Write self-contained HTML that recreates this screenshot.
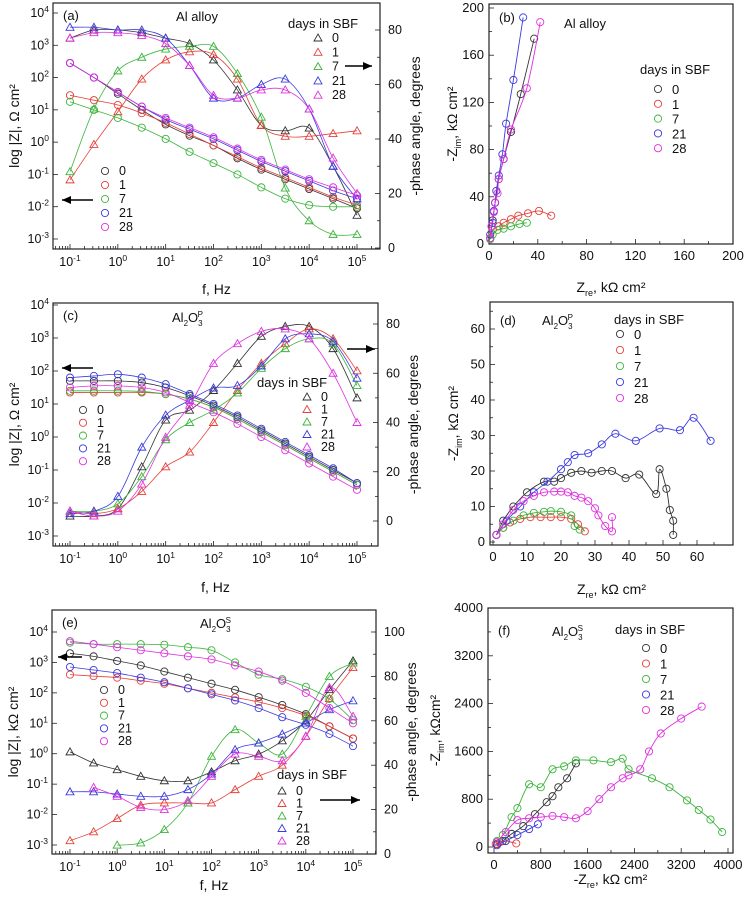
<!DOCTYPE html>
<html><head><meta charset="utf-8"><style>
html,body{margin:0;padding:0;background:#fff}
svg{display:block;font-family:"Liberation Sans",sans-serif}
</style></head><body>
<svg id="fig" width="750" height="899" viewBox="0 0 750 899" xmlns="http://www.w3.org/2000/svg"></svg>
<script>
// ---------- DATA ----------
const days = ["0","1","7","21","28"];
const colors = ["#333333","#e5403a","#3cb43c","#3a3ae0","#e030e0"];
const logFreq = [-1,-0.5,0,0.5,1,1.5,2,2.5,3,3.5,4,4.5,5];
// panel (a) Al alloy
const aLogZ0 = [2.45,2.0,1.5,1.0,0.55,0.2,-0.1,-0.5,-0.85,-1.15,-1.45,-1.75,-2.05];
const aLogZ1 = [1.45,1.3,1.15,0.9,0.6,0.25,-0.1,-0.45,-0.8,-1.1,-1.4,-1.7,-1.95];
const aLogZ7 = [1.25,1.0,0.75,0.45,0.1,-0.3,-0.65,-1.0,-1.4,-1.75,-1.95,-2.0,-2.0];
const aLogZ21 = [2.45,2.0,1.55,1.1,0.7,0.4,0.1,-0.25,-0.6,-0.9,-1.2,-1.5,-1.75];
const aLogZ28 = [2.45,2.0,1.55,1.1,0.75,0.45,0.15,-0.2,-0.55,-0.85,-1.15,-1.4,-1.65];
const aPh0 = [77,80,80,79,77,75,69,58,45,43,44,30,12];
const aPh1 = [25,38,50,62,69,72,71,62,45,41,41,42,43];
const aPh7 = [28,51,65,70,73,74,74,64,48,22,10,5,5];
const aPh21 = [81,81,80,80,77,67,55,55,60,62,51,30,18];
const aPh28 = [77,79,79,78,75,67,56,55,58,58,51,33,20];
// panel (c) Al2O3 P
const cLogZ0 = [1.7,1.7,1.7,1.65,1.5,1.25,0.95,0.6,0.2,-0.2,-0.6,-1.0,-1.4];
const cLogZ1 = [1.35,1.35,1.35,1.35,1.3,1.15,0.9,0.55,0.15,-0.25,-0.65,-1.05,-1.45];
const cLogZ7 = [1.4,1.4,1.4,1.38,1.3,1.15,0.9,0.55,0.15,-0.25,-0.65,-1.05,-1.45];
const cLogZ21 = [1.8,1.85,1.9,1.8,1.6,1.3,1.0,0.65,0.25,-0.15,-0.55,-0.95,-1.4];
const cLogZ28 = [1.5,1.55,1.55,1.5,1.35,1.05,0.75,0.4,0.0,-0.4,-0.8,-1.2,-1.6];
const cPh0 = [2,2,5,22,41,45,53,64,75,79,79,70,50];
const cPh1 = [4,3,5,12,22,28,40,53,64,72,78,74,61];
const cPh7 = [4,4,7,18,33,40,45,52,62,70,74,72,55];
const cPh21 = [3,4,10,30,43,49,54,55,63,74,76,73,58];
const cPh28 = [4,2,4,15,34,47,64,72,77,78,74,60,40];
// panel (e) Al2O3 S
const eLogZ0 = [3.3,3.2,3.05,2.9,2.7,2.5,2.3,2.1,1.86,1.6,1.3,0.9,0.5];
const eLogZ1 = [2.6,2.55,2.5,2.4,2.3,2.15,2.0,1.85,1.7,1.5,1.25,0.9,0.5];
const eLogZ7 = [3.65,3.6,3.6,3.6,3.58,3.5,3.4,3.0,2.6,2.45,2.2,1.8,1.1];
const eLogZ21 = [2.85,2.75,2.65,2.5,2.35,2.15,1.95,1.75,1.5,1.2,0.95,0.65,0.25];
const eLogZ28 = [3.7,3.6,3.5,3.4,3.3,3.2,3.1,2.9,2.7,2.4,2.0,1.5,1.0];
const ePh0 = [46,41,38,35,33,33,37,42,45,51,60,74,87];
const ePh1 = [6,10,16,22,23,23,23,29,35,40,53,70,84];
const ePh7 = [null,null,4,5,11,23,44,56,50,45,62,80,86];
const ePh21 = [28,28,27,26,26,29,36,47,50,54,59,65,69];
const ePh28 = [null,30,26,21,20,24,35,45,44,42,53,75,62];
// panel (b) Nyquist Al alloy (Zre, Zim)
const bRe0 = [1,3,5,8,12,18,26,37];   const bIm0 = [5,20,35,55,72,95,127,174];
const bRe1 = [1,3,8,12,18,24,32,41,51]; const bIm1 = [5,12,15,18,21,24,26,28,24];
const bRe7 = [1,3,7,12,18,25,31];     const bIm7 = [4,8,12,13,15,17,18];
const bRe21 = [1,3,4,5,6,8,11,14,20,28]; const bIm21 = [8,18,28,35,45,58,76,102,139,192];
const bRe28 = [1,2,4,5,7,8,12,18,31,42]; const bIm28 = [5,15,27,35,43,55,72,97,132,188];
// panel (d)
const dRe0 = [1,3,6,10,15,18,20,23,26,29,32,35,39,43,48,49,51,52,53,53];
const dIm0 = [2,6,10,14,17,17,18,19.5,20,19.5,20,20,18,19,13.5,20.5,15,9,6,2];
const dRe1 = [1,3,5,8,11,14,17,20,23,25,27]; const dIm1 = [2,4,5.5,6.5,7,7,7,7,6.5,5,3];
const dRe7 = [1,3,6,9,12,15,17,20,23,24,25.5]; const dIm7 = [2,4,6,7.5,8.2,8.5,8.7,8.5,7.5,4.5,3.5];
const dRe21 = [1,4,8,12,16,20,22,24,28,32,36,42,49,55,59,64];
const dIm21 = [2,6,10,14,17,20.5,22.5,24.5,25,27.5,30.5,28.5,32,31.5,35,28.5];
const dRe28 = [1,3,6,9,12,15,18,20,22,24,26,28,30,31,33,35,35];
const dIm28 = [2,5,9,11.5,13,14,14.2,14.2,14,13,12.5,11.5,9.5,7.5,4.5,3,7];
// panel (f)
const fRe0 = [50,150,300,500,700,900,1000,1100,1250,1400]; const fIm0 = [50,100,220,350,550,750,850,1000,1150,1400];
const fRe1 = [30,100,200,380]; const fIm1 = [50,80,100,60];
const fRe7 = [50,150,300,400,600,800,1000,1200,1400,1700,2000,2200,2300,2700,3000,3300,3500,3700,3900];
const fIm7 = [100,200,500,650,1050,1000,1300,1350,1450,1450,1420,1480,1300,1150,1000,780,620,460,250];
const fRe21 = [50,200,400,600,750]; const fIm21 = [30,100,200,300,380];
const fRe28 = [50,200,400,600,800,1000,1200,1400,1600,1800,2000,2200,2300,2500,2650,2850,3200,3550];
const fIm28 = [80,250,450,480,500,520,500,480,600,800,1000,1150,1200,1300,1600,1900,2150,2350];

// ---------- DRAWING ----------
const NS="http://www.w3.org/2000/svg";
const svg=document.getElementById('fig');
function mk(tag,attrs,parent){const e=document.createElementNS(NS,tag);for(const k in attrs)e.setAttribute(k,attrs[k]);(parent||svg).appendChild(e);return e;}
function lin(d0,d1,r0,r1){return v=>r0+(v-d0)*(r1-r0)/(d1-d0);}
function txt(x,y,s,opt,parent){const t=mk('text',Object.assign({x:x,y:y,'font-size':12,fill:'#111'},opt||{}),parent);t.textContent=s;return t;}
function pow10(x,y,n,parent,anchor){const t=mk('text',{x:x,y:y,'font-size':12.5,fill:'#111','text-anchor':anchor||'middle'},parent);
  t.appendChild(document.createTextNode('10'));const s=document.createElementNS(NS,'tspan');s.setAttribute('dy','-5');s.setAttribute('font-size','8.5');s.textContent=n;t.appendChild(s);return t;}
function circ(g,x,y){return mk('circle',{cx:x,cy:y,r:3.6,fill:'none','stroke-width':0.9},g);}
function tri(g,x,y){return mk('path',{d:`M${x},${y-4}L${x+4},${y+3}L${x-4},${y+3}Z`,fill:'none','stroke-width':0.9},g);}
function frame(x0,y0,x1,y1,parent){mk('rect',{x:x0,y:y0,width:x1-x0,height:y1-y0,fill:'none',stroke:'#222','stroke-width':1.2},parent);}
function smooth(p){
  if(p.length<2)return '';let d=`M${p[0][0]},${p[0][1]}`;
  for(let i=0;i<p.length-1;i++){const p0=p[Math.max(0,i-1)],p1=p[i],p2=p[i+1],p3=p[Math.min(p.length-1,i+2)];
    const c1x=p1[0]+(p2[0]-p0[0])/6,c1y=p1[1]+(p2[1]-p0[1])/6,c2x=p2[0]-(p3[0]-p1[0])/6,c2y=p2[1]-(p3[1]-p1[1])/6;
    d+=`C${c1x},${c1y} ${c2x},${c2y} ${p2[0]},${p2[1]}`;}
  return d;}

function bodePanel(cfg){
  const g=mk('g',{});
  
  
  const X=lin(-1,5,cfg.x0,cfg.x5), YZ=lin(4,-3,cfg.yz4,cfg.yzm3), YP=lin(0,cfg.phMax,cfg.yp0,cfg.ypMax);
  frame(cfg.L,cfg.T,cfg.R,cfg.B,g);
  for(let d=-2;d<=5;d++){for(let m=1;m<10;m++){const lv=d+Math.log10(m);const x=X(lv);if(x<cfg.L||x>cfg.R)continue;
    mk('line',{x1:x,y1:cfg.B,x2:x,y2:cfg.B-(m==1?5:3),stroke:'#222','stroke-width':0.8},g);}
    if(d>=-1){pow10(X(d),cfg.B+17,String(d),g);}}
  for(let d=-3;d<=4;d++){const y=YZ(d);mk('line',{x1:cfg.L,y1:y,x2:cfg.L+5,y2:y,stroke:'#222','stroke-width':0.8},g);pow10(cfg.L-4,y+4,String(d),g,'end');}
  for(let p=0;p<=cfg.phMax;p+=cfg.phStep){const y=YP(p);mk('line',{x1:cfg.R,y1:y,x2:cfg.R-5,y2:y,stroke:'#222','stroke-width':0.8},g);txt(cfg.R+8,y+4,String(p),{'font-size':12.5},g);
    if(p+cfg.phStep/2<=cfg.phMax+1){const y2=YP(p+cfg.phStep/2);if(y2>cfg.T)mk('line',{x1:cfg.R,y1:y2,x2:cfg.R-3,y2:y2,stroke:'#222','stroke-width':0.8},g);}}
  for(let s=0;s<5;s++){
    const zs=cfg.z[s], ps=cfg.p[s];
    const gz=mk('g',{stroke:colors[s]},g);
    
    
    let pts=[];
    logFreq.forEach((lf,i)=>{if(zs[i]==null)return;const x=X(lf),y=YZ(zs[i]);pts.push([x,y]);circ(gz,x,y);});
    mk('path',{d:smooth(pts),fill:'none','stroke-width':0.8},gz);
    const gp=mk('g',{stroke:colors[s]},g);
    
    
    pts=[];
    logFreq.forEach((lf,i)=>{if(ps[i]==null)return;const x=X(lf),y=YP(ps[i]);pts.push([x,y]);tri(gp,x,y);});
    mk('path',{d:smooth(pts),fill:'none','stroke-width':0.8},gp);
  }
  const yt=txt(0,0,'',{'font-size':14,'text-anchor':'middle',transform:`translate(${cfg.L-34},${(cfg.T+cfg.B)/2}) rotate(-90)`},g);
  yt.textContent=cfg.ylabel;
  
  
  const rt=txt(0,0,'-phase angle, degrees',{'font-size':14,'text-anchor':'middle',transform:`translate(${cfg.R+40},${(cfg.T+cfg.B)/2}) rotate(-90)`},g);
  
  
  const xt=txt((cfg.L+cfg.R)/2,cfg.xtY,'f, Hz',{'font-size':14,'text-anchor':'middle'},g);
  
  
  txt(cfg.L+10,cfg.T+17,cfg.tag,{'font-size':13},g);
  cfg.title(g);
  const lc=mk('g',{},g);
  
  
  for(let s=0;s<5;s++){const y=cfg.lc.y0+s*cfg.lc.dy;const c=circ(lc,cfg.lc.x,y);c.setAttribute('stroke',colors[s]);txt(cfg.lc.x+14,y+4,days[s],{'font-size':12.5},lc);}
  const lt=mk('g',{},g);
  
  
  txt(cfg.lt.hx,cfg.lt.hy,'days in SBF',{'font-size':13},lt);
  for(let s=0;s<5;s++){const y=cfg.lt.y0+s*cfg.lt.dy;const c=tri(lt,cfg.lt.x,y);c.setAttribute('stroke',colors[s]);txt(cfg.lt.x+14,y+4,days[s],{'font-size':12.5},lt);}
  cfg.arrows.forEach(a=>{const ar=mk('g',{},g);
    
    
    mk('line',{x1:a.x1,y1:a.y,x2:a.x2,y2:a.y,stroke:'#000','stroke-width':1.5},ar);
    const dir=a.x2>a.x1?1:-1;mk('path',{d:`M${a.x2},${a.y}L${a.x2-dir*9},${a.y-4}L${a.x2-dir*9},${a.y+4}Z`,fill:'#000'},ar);});
}
function al2o3(g,x,y,sup){const t=mk('text',{x:x,y:y,'font-size':13,fill:'#111'},g);
  t.appendChild(document.createTextNode('Al'));
  let s=document.createElementNS(NS,'tspan');s.setAttribute('dy','4');s.setAttribute('font-size','8');s.textContent='2';t.appendChild(s);
  s=document.createElementNS(NS,'tspan');s.setAttribute('dy','-4');s.textContent='O';t.appendChild(s);
  s=document.createElementNS(NS,'tspan');s.setAttribute('dy','4');s.setAttribute('font-size','8');s.textContent='3';t.appendChild(s);
  s=document.createElementNS(NS,'tspan');s.setAttribute('dx','-5');s.setAttribute('dy','-9');s.setAttribute('font-size','8');s.textContent=sup;t.appendChild(s);
  
  }

bodePanel({name:'panel-a-bode-al-alloy',L:53,T:3,R:380,B:249,x0:70,x5:357,yz4:13,yzm3:239,yp0:248,ypMax:30,phMax:80,phStep:20,
  z:[aLogZ0,aLogZ1,aLogZ7,aLogZ21,aLogZ28],p:[aPh0,aPh1,aPh7,aPh21,aPh28],ylabel:'log |Z|, Ω cm²',xtY:294,tag:'(a)',
  title:g=>{const t=txt(197,21,'Al alloy',{'font-size':13,'text-anchor':'middle'},g);},
  lc:{x:105,y0:171,dy:14},lt:{hx:288,hy:28,x:318,y0:38,dy:14.3},
  arrows:[{name:'left-axis-arrow',x1:93,x2:62,y:200},{name:'right-axis-arrow',x1:345,x2:372,y:66}]});
bodePanel({name:'panel-c-bode-al2o3-p',L:53,T:303,R:378,B:546,x0:70,x5:357,yz4:305,yzm3:536,yp0:521,ypMax:324,phMax:80,phStep:20,
  z:[cLogZ0,cLogZ1,cLogZ7,cLogZ21,cLogZ28],p:[cPh0,cPh1,cPh7,cPh21,cPh28],ylabel:'log |Z|, Ω cm²',xtY:592,tag:'(c)',
  title:g=>al2o3(g,172,322,'P'),
  lc:{x:83,y0:410,dy:12.8},lt:{hx:257,hy:387,x:307,y0:397,dy:12.5},
  arrows:[{name:'left-axis-arrow',x1:93,x2:62,y:368},{name:'right-axis-arrow',x1:347,x2:375,y:349}]});
bodePanel({name:'panel-e-bode-al2o3-s',L:52,T:610,R:376,B:854,x0:70,x5:353,yz4:632,yzm3:845,yp0:854,ypMax:632,phMax:100,phStep:20,
  z:[eLogZ0,eLogZ1,eLogZ7,eLogZ21,eLogZ28],p:[ePh0,ePh1,ePh7,ePh21,ePh28],ylabel:'log |Z|, kΩ cm²',xtY:890,tag:'(e)',
  title:g=>al2o3(g,200,628,'S'),
  lc:{x:104,y0:690,dy:12.8},lt:{hx:277,hy:779,x:282,y0:791,dy:12.5},
  arrows:[{name:'left-axis-arrow',x1:82,x2:58,y:657},{name:'right-axis-arrow',x1:320,x2:360,y:800}]});

function nyqPanel(cfg){
  const g=mk('g',{});
  
  
  const X=lin(0,cfg.xMax,cfg.x0,cfg.x1), Y=lin(0,cfg.yMax,cfg.y0,cfg.y1);
  frame(cfg.L,cfg.T,cfg.R,cfg.B,g);
  for(let v=0;v<=cfg.xMax+1e-9;v+=cfg.xStep){const x=X(v);mk('line',{x1:x,y1:cfg.B,x2:x,y2:cfg.B-5,stroke:'#222','stroke-width':0.8},g);
    const m=X(v+cfg.xStep/2);if(m<cfg.R)mk('line',{x1:m,y1:cfg.B,x2:m,y2:cfg.B-3,stroke:'#222','stroke-width':0.8},g);
    txt(x,cfg.B+16,String(v),{'text-anchor':'middle','font-size':13},g);}
  for(let v=0;v<=cfg.yMax+1e-9;v+=cfg.yStep){const y=Y(v);mk('line',{x1:cfg.L,y1:y,x2:cfg.L+5,y2:y,stroke:'#222','stroke-width':0.8},g);
    const m=Y(v+cfg.yStep/2);if(m>cfg.T)mk('line',{x1:cfg.L,y1:m,x2:cfg.L+3,y2:m,stroke:'#222','stroke-width':0.8},g);
    txt(cfg.L-5,y+4,String(v),{'text-anchor':'end','font-size':13},g);}
  for(let s=0;s<5;s++){const gs=mk('g',{stroke:colors[s]},g);
    
    
    const re=cfg.re[s],im=cfg.im[s];let pts=[];
    re.forEach((r,i)=>{const x=X(r),y=Y(im[i]);pts.push([x,y]);circ(gs,x,y);});
    mk('path',{d:smooth(pts),fill:'none','stroke-width':0.9},gs);}
  const xt=mk('text',{x:(cfg.L+cfg.R)/2,y:cfg.xtY,'font-size':14,'text-anchor':'middle',fill:'#111'},g);
  xt.appendChild(document.createTextNode(cfg.xpre+'Z'));let s=document.createElementNS(NS,'tspan');s.setAttribute('dy','4');s.setAttribute('font-size','9');s.textContent='re';xt.appendChild(s);
  s=document.createElementNS(NS,'tspan');s.setAttribute('dy','-4');s.textContent=', kΩ cm²';xt.appendChild(s);
  
  
  const yt=mk('text',{'font-size':14,'text-anchor':'middle',fill:'#111',transform:`translate(${cfg.L-cfg.yOff},${(cfg.T+cfg.B)/2}) rotate(-90)`},g);
  yt.appendChild(document.createTextNode('-Z'));s=document.createElementNS(NS,'tspan');s.setAttribute('dy','4');s.setAttribute('font-size','9');s.textContent='im';yt.appendChild(s);
  s=document.createElementNS(NS,'tspan');s.setAttribute('dy','-4');s.textContent=cfg.yunit;yt.appendChild(s);
  
  
  txt(cfg.L+10,cfg.T+cfg.tagDy,cfg.tag,{'font-size':13},g);
  cfg.title(g);
  const lg=mk('g',{},g);
  
  
  txt(cfg.lg.hx,cfg.lg.hy,'days in SBF',{'font-size':13},lg);
  for(let k=0;k<5;k++){const y=cfg.lg.y0+k*cfg.lg.dy;const c=circ(lg,cfg.lg.x,y);c.setAttribute('stroke',colors[k]);txt(cfg.lg.x+14,y+5,days[k],{'font-size':13},lg);}
}
nyqPanel({name:'panel-b-nyquist-al-alloy',L:489,T:4,R:733,B:244,x0:489,x1:733,y0:244,y1:8,xMax:200,yMax:200,xStep:40,yStep:40,yOff:32,
  re:[bRe0,bRe1,bRe7,bRe21,bRe28],im:[bIm0,bIm1,bIm7,bIm21,bIm28],xpre:'',yunit:', kΩ cm²',xtY:292,tag:'(b)',tagDy:18,
  title:g=>{const t=txt(585,28,'Al alloy',{'font-size':13,'text-anchor':'middle'},g);},
  lg:{hx:640,hy:74,x:658,y0:89,dy:14.8}});
nyqPanel({name:'panel-d-nyquist-al2o3-p',L:490,T:302,R:733,B:545,x0:493,x1:697,y0:542,y1:329,xMax:60,yMax:60,xStep:10,yStep:10,yOff:32,
  re:[dRe0,dRe1,dRe7,dRe21,dRe28],im:[dIm0,dIm1,dIm7,dIm21,dIm28],xpre:'',yunit:', kΩ cm²',xtY:594,tag:'(d)',tagDy:23,
  title:g=>al2o3(g,542,325,'P'),
  lg:{hx:614,hy:324,x:620,y0:334,dy:16}});
nyqPanel({name:'panel-f-nyquist-al2o3-s',L:488,T:608,R:733,B:853,x0:494,x1:728,y0:847,y1:608,xMax:4000,yMax:4000,xStep:800,yStep:800,yOff:48,
  re:[fRe0,fRe1,fRe7,fRe21,fRe28],im:[fIm0,fIm1,fIm7,fIm21,fIm28],xpre:'-',yunit:', kΩcm²',xtY:884,tag:'(f)',tagDy:27,
  title:g=>al2o3(g,552,636,'S'),
  lg:{hx:615,hy:634,x:646,y0:648,dy:15.5}});
</script>
</body></html>
